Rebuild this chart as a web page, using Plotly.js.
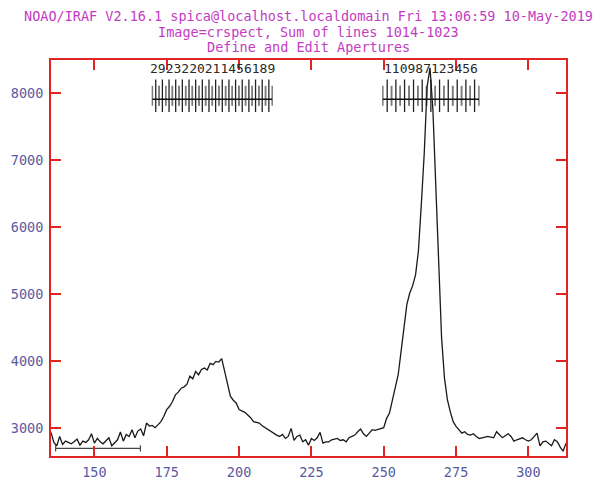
<!DOCTYPE html>
<html>
<head>
<meta charset="utf-8">
<script src="https://cdn.plot.ly/plotly-3.0.1.min.js"></script>
<style>html,body{margin:0;padding:0;background:#fff;}#chart{width:606px;height:483px;}</style>
</head>
<body>
<div id="chart"></div>
<script>
// Column (pixel) positions and summed counts of the spectrum
const columns = [];
for (let c = 135; c <= 313; c++) columns.push(c);
const counts = [
  2940, 2790, 2740, 2880, 2760, 2810, 2790, 2770, 2800, 2840,
  2750, 2810, 2790, 2830, 2920, 2780, 2850, 2800, 2770, 2820,
  2860, 2740, 2790, 2830, 2945, 2810, 2910, 2880, 2980, 2860,
  2960, 2990, 2890, 3080, 3035, 3045, 3010, 3060, 3100, 3180,
  3280, 3330, 3400, 3500, 3540, 3600, 3620, 3660, 3780, 3740,
  3850, 3800, 3880, 3900, 3870, 3970, 3950, 4000, 3990, 4040,
  3850, 3640, 3480, 3420, 3380, 3280, 3260, 3240, 3200, 3160,
  3100, 3090, 3080, 3040, 3010, 2980, 2960, 2930, 2900, 2880,
  2910, 2850, 2880, 3000, 2820, 2880, 2900, 2800, 2830, 2750,
  2850, 2820, 2860, 2940, 2780, 2800, 2800, 2830, 2840, 2850,
  2820, 2830, 2800, 2860, 2880, 2900, 2950, 2990, 2920, 2880,
  2930, 2980, 2970, 2980, 2990, 3010, 3150, 3230, 3420, 3600,
  3800, 4150, 4550, 4850, 5020, 5130, 5290, 5650, 6350, 7100,
  8100, 8380, 7750, 6600, 5400, 4350, 3750, 3430, 3250, 3100,
  3030, 2980, 2930, 2950, 2910, 2900, 2920, 2880, 2850, 2860,
  2870, 2880, 2870, 2860, 2950, 2900, 2860, 2890, 2920, 2880,
  2810, 2830, 2850, 2860, 2830, 2810, 2830, 2880, 2930, 2740,
  2800, 2810, 2780, 2740, 2830, 2800, 2720, 2660, 2780
];

// Aperture centres (two overlapping groups)
const apLeftCenters = [171.2, 173.5, 175.8, 178.1, 180.4, 182.7, 185.0, 187.3, 189.6,
                       191.9, 194.2, 196.5, 198.8, 201.1, 203.4, 205.7, 208.0, 210.3];
const apLeftHalf = 1.15;
const apRightCenters = [251.2, 254.2, 257.2, 260.3, 263.3, 266.3, 269.3, 272.3, 275.4, 278.4, 281.4];
const apRightHalf = 1.5;
const apLeftLabel = "2923220211456189";
const apRightLabel = "110987123456";
// Marker heights (data units)
const apCenterTop = 8205, apCenterBottom = 7720;
const apLimitTop = 8110, apLimitBottom = 7815;
const apBarLevel = 7911;
const apLabelLevel = 8375;

// Background sample region
const bgRegion = [136.6, 165.9];
const bgLevel = 2702;

const xTicks = [150, 175, 200, 225, 250, 275, 300];
const yTicks = [3000, 4000, 5000, 6000, 7000, 8000];

const titleLines = [
  "NOAO/IRAF V2.16.1 spica@localhost.localdomain Fri 13:06:59 10-May-2019",
  "Image=crspect, Sum of lines 1014-1023",
  "Define and Edit Apertures"
];

function segs(xs, y0, y1) {
  const x = [], y = [];
  xs.forEach(v => { x.push(v, v, null); y.push(y0, y1, null); });
  return {x, y};
}
function apTraces(centers, half) {
  const c = segs(centers, apCenterTop, apCenterBottom);
  const lims = [];
  centers.forEach(v => { lims.push(v - half, v + half); });
  const l = segs(lims, apLimitTop, apLimitBottom);
  const lo = centers[0] - half, hi = centers[centers.length - 1] + half;
  return [
    {x: l.x, y: l.y, mode: 'lines', line: {color: '#7a7a7a', width: 1.5}, hoverinfo: 'skip'},
    {x: c.x, y: c.y, mode: 'lines', line: {color: '#222', width: 1.3}, hoverinfo: 'skip'},
    {x: [lo, hi], y: [apBarLevel, apBarLevel], mode: 'lines', line: {color: '#111', width: 1.4}, hoverinfo: 'skip'}
  ];
}

const bgCaps = segs(bgRegion, bgLevel - 45, bgLevel + 45);
const traces = [
  ...apTraces(apLeftCenters, apLeftHalf),
  ...apTraces(apRightCenters, apRightHalf),
  {x: bgRegion, y: [bgLevel, bgLevel], mode: 'lines', line: {color: '#444', width: 1.2}},
  {x: bgCaps.x, y: bgCaps.y, mode: 'lines', line: {color: '#444', width: 1.2}},
  {x: columns, y: counts, mode: 'lines', line: {color: '#1a1a1a', width: 1.3}}
];

const mono = "DejaVu Sans Mono";
const titleColor = "#c23cc2";
const labelColor = "#5a5aa4";
const red = "#e02424";

const annotations = titleLines.map((t, i) => ({
  text: t, xref: 'paper', yref: 'paper', x: 0.5, xanchor: 'center',
  y: 1, yanchor: 'middle', yshift: [44, 28.5, 13][i],
  showarrow: false, font: {family: mono, size: 13.5, color: titleColor}
}));
annotations.push(
  {text: apLeftLabel, x: (apLeftCenters[0] + apLeftCenters[apLeftCenters.length - 1]) / 2, y: apLabelLevel,
   xref: 'x', yref: 'y', showarrow: false, font: {family: mono, size: 13, color: '#2a2a2a'}},
  {text: apRightLabel, x: (apRightCenters[0] + apRightCenters[apRightCenters.length - 1]) / 2, y: apLabelLevel,
   xref: 'x', yref: 'y', showarrow: false, font: {family: mono, size: 13, color: '#2a2a2a'}}
);

const layout = {
  width: 606, height: 483,
  margin: {l: 51, r: 40, t: 60, b: 27},
  paper_bgcolor: '#fff', plot_bgcolor: '#fff',
  showlegend: false,
  xaxis: {
    range: [135, 313], tickvals: xTicks, ticktext: xTicks.map(String),
    showgrid: false, zeroline: false, showline: true, mirror: 'ticks',
    linecolor: red, linewidth: 2, ticks: 'inside', ticklen: 10, tickwidth: 2, tickcolor: red,
    tickfont: {family: mono, size: 13.5, color: labelColor}, ticklabelstandoff: 3
  },
  yaxis: {
    range: [2588, 8496], tickvals: yTicks, ticktext: yTicks.map(String),
    showgrid: false, zeroline: false, showline: true, mirror: 'ticks',
    linecolor: red, linewidth: 2, ticks: 'inside', ticklen: 10, tickwidth: 2, tickcolor: red,
    tickfont: {family: mono, size: 13.5, color: labelColor}, ticklabelstandoff: 3
  },
  annotations: annotations
};

Plotly.newPlot('chart', traces, layout, {staticPlot: true, displayModeBar: false});
</script>
</body>
</html>
